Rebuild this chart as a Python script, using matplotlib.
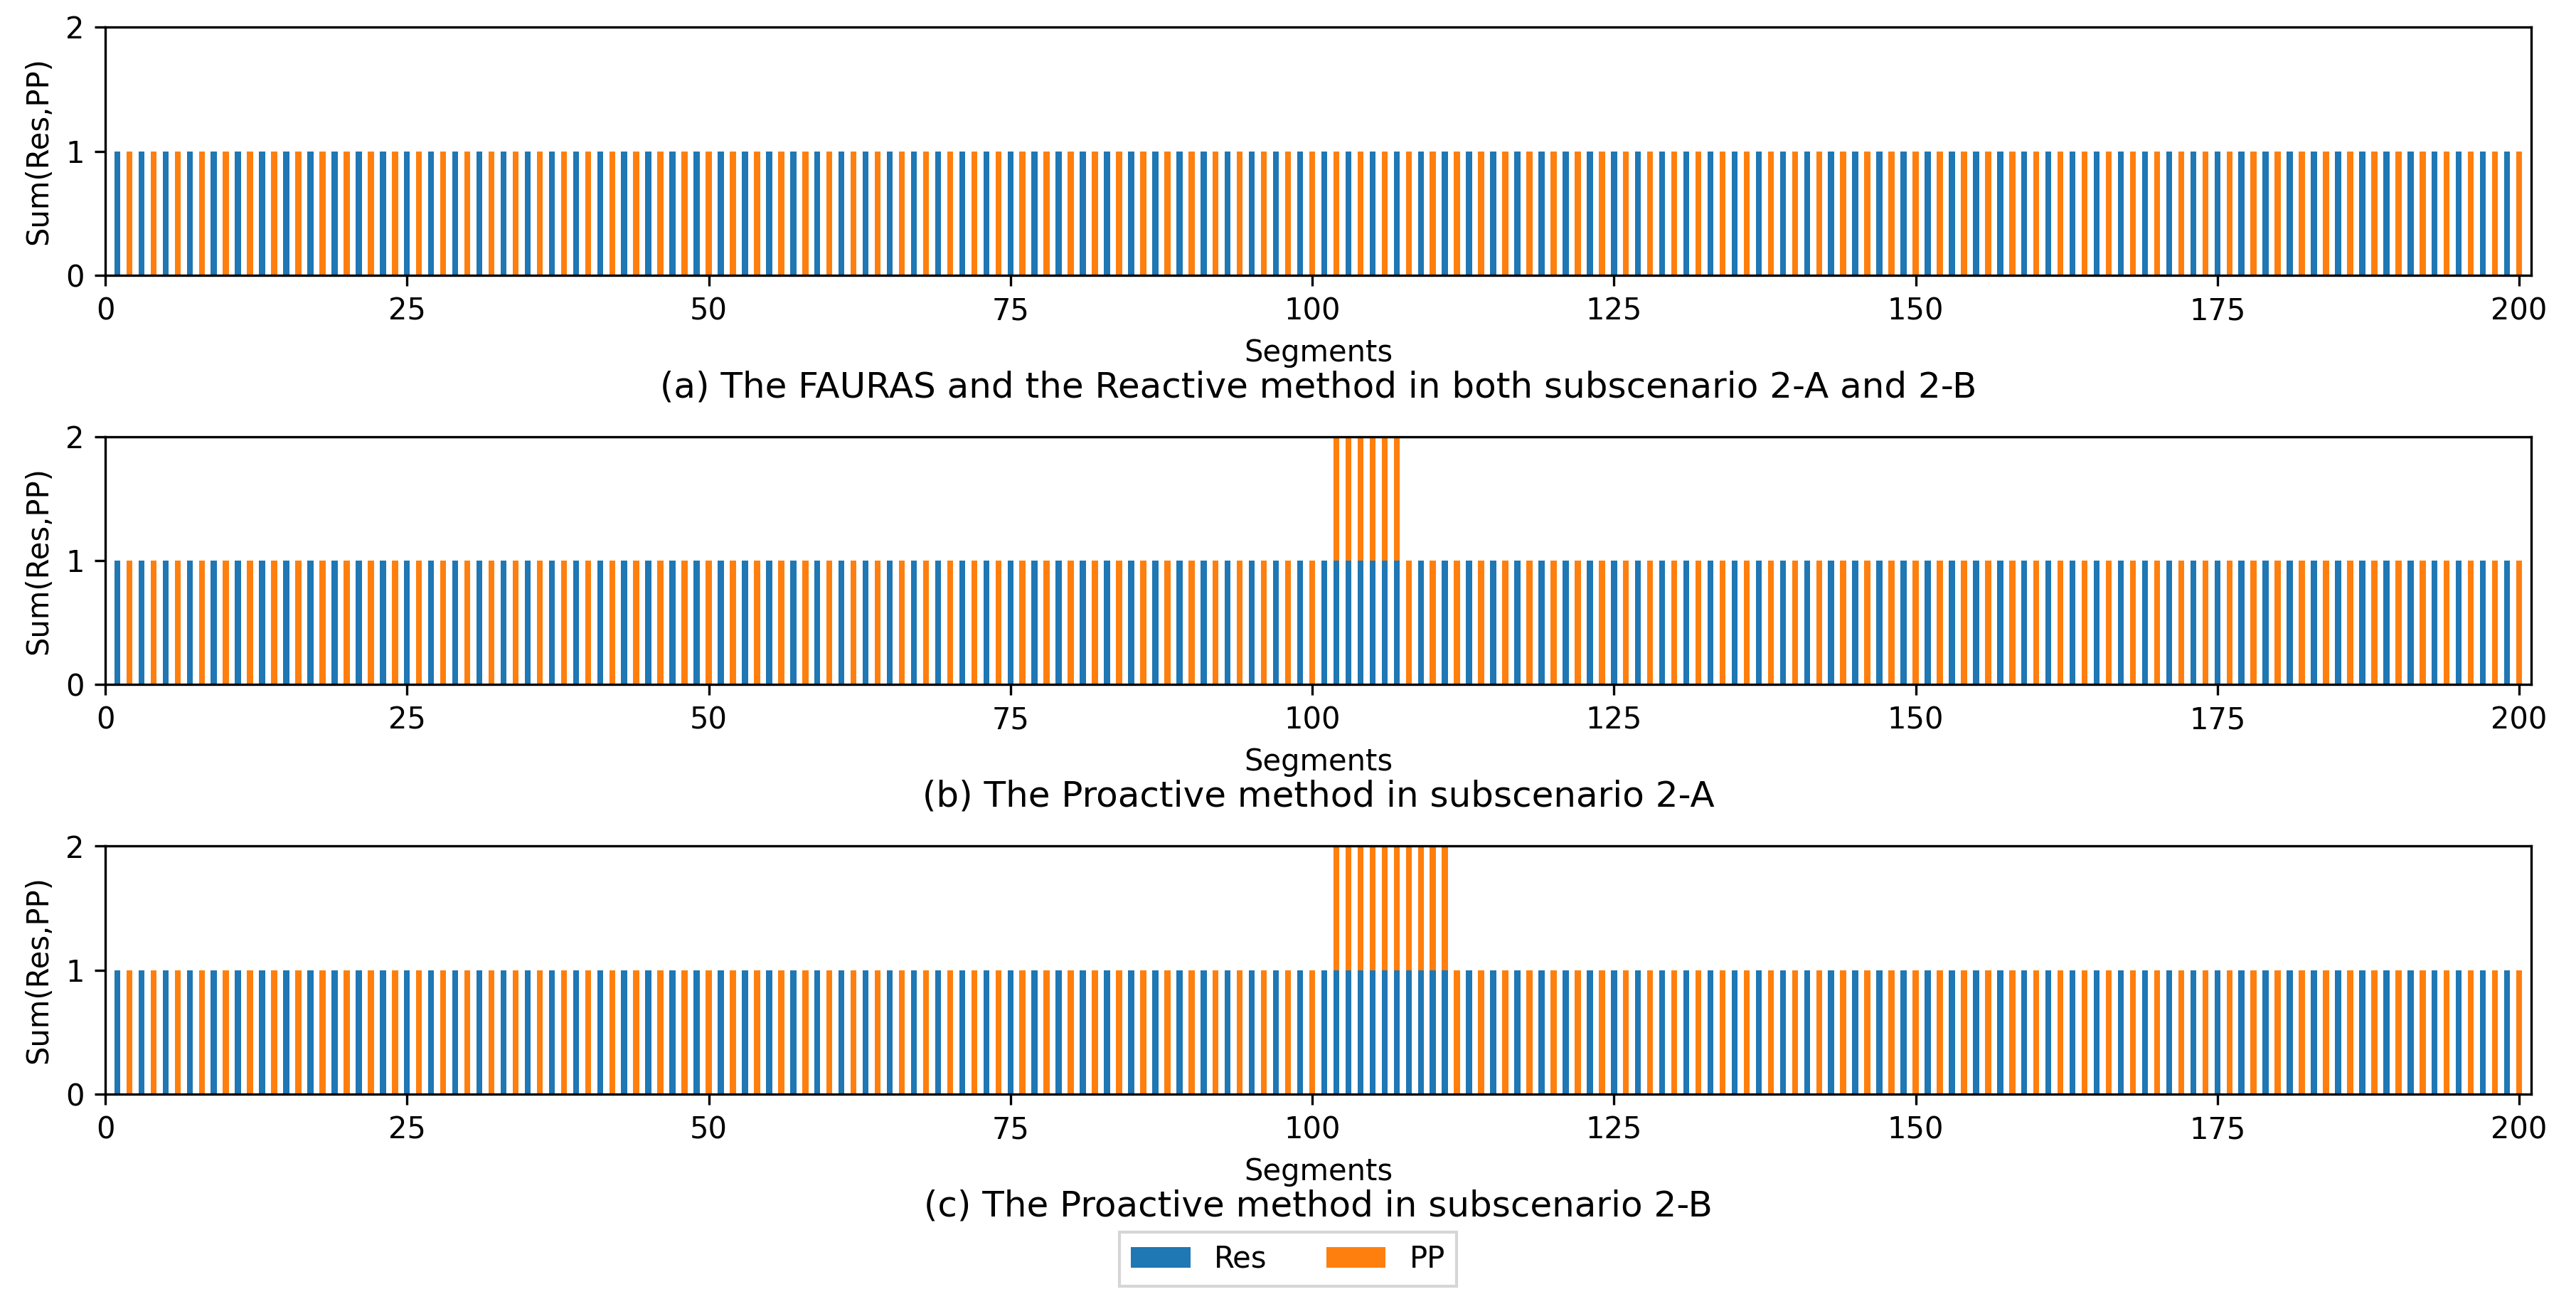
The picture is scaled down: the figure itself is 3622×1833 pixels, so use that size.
import numpy as np
import matplotlib
matplotlib.use("Agg")
import matplotlib.pyplot as plt

# segments 1..200
segments = list(range(1, 201))

# base pattern: Res on odd segments, PP on even segments
res_base = [
    1, 0, 1, 0, 1, 0, 1, 0, 1, 0, 1, 0, 1, 0, 1, 0, 1, 0, 1, 0,
    1, 0, 1, 0, 1, 0, 1, 0, 1, 0, 1, 0, 1, 0, 1, 0, 1, 0, 1, 0,
    1, 0, 1, 0, 1, 0, 1, 0, 1, 0, 1, 0, 1, 0, 1, 0, 1, 0, 1, 0,
    1, 0, 1, 0, 1, 0, 1, 0, 1, 0, 1, 0, 1, 0, 1, 0, 1, 0, 1, 0,
    1, 0, 1, 0, 1, 0, 1, 0, 1, 0, 1, 0, 1, 0, 1, 0, 1, 0, 1, 0,
    1, 0, 1, 0, 1, 0, 1, 0, 1, 0, 1, 0, 1, 0, 1, 0, 1, 0, 1, 0,
    1, 0, 1, 0, 1, 0, 1, 0, 1, 0, 1, 0, 1, 0, 1, 0, 1, 0, 1, 0,
    1, 0, 1, 0, 1, 0, 1, 0, 1, 0, 1, 0, 1, 0, 1, 0, 1, 0, 1, 0,
    1, 0, 1, 0, 1, 0, 1, 0, 1, 0, 1, 0, 1, 0, 1, 0, 1, 0, 1, 0,
    1, 0, 1, 0, 1, 0, 1, 0, 1, 0, 1, 0, 1, 0, 1, 0, 1, 0, 1, 0,
]
pp_base = [
    0, 1, 0, 1, 0, 1, 0, 1, 0, 1, 0, 1, 0, 1, 0, 1, 0, 1, 0, 1,
    0, 1, 0, 1, 0, 1, 0, 1, 0, 1, 0, 1, 0, 1, 0, 1, 0, 1, 0, 1,
    0, 1, 0, 1, 0, 1, 0, 1, 0, 1, 0, 1, 0, 1, 0, 1, 0, 1, 0, 1,
    0, 1, 0, 1, 0, 1, 0, 1, 0, 1, 0, 1, 0, 1, 0, 1, 0, 1, 0, 1,
    0, 1, 0, 1, 0, 1, 0, 1, 0, 1, 0, 1, 0, 1, 0, 1, 0, 1, 0, 1,
    0, 1, 0, 1, 0, 1, 0, 1, 0, 1, 0, 1, 0, 1, 0, 1, 0, 1, 0, 1,
    0, 1, 0, 1, 0, 1, 0, 1, 0, 1, 0, 1, 0, 1, 0, 1, 0, 1, 0, 1,
    0, 1, 0, 1, 0, 1, 0, 1, 0, 1, 0, 1, 0, 1, 0, 1, 0, 1, 0, 1,
    0, 1, 0, 1, 0, 1, 0, 1, 0, 1, 0, 1, 0, 1, 0, 1, 0, 1, 0, 1,
    0, 1, 0, 1, 0, 1, 0, 1, 0, 1, 0, 1, 0, 1, 0, 1, 0, 1, 0, 1,
]

# segments where both Res and PP are active (stacked to 2)
both_a = []
both_b = [102, 103, 104, 105, 106, 107]
both_c = [102, 103, 104, 105, 106, 107, 108, 109, 110, 111]

captions = [
    '(a) The FAURAS and the Reactive method in both subscenario 2-A and 2-B',
    '(b) The Proactive method in subscenario 2-A',
    '(c) The Proactive method in subscenario 2-B',
]


def make_series(both):
    res = list(res_base)
    pp = list(pp_base)
    for s in both:
        res[s - 1] = 1
        pp[s - 1] = 1
    return res, pp


W, H = 3622, 1833
dpi = 300
fig = plt.figure(figsize=(W / dpi, H / dpi), dpi=dpi)

left = 148 / W
right = 3559 / W
tops = [38, 614, 1189]
bottoms = [387, 962, 1538]

for i, both in enumerate([both_a, both_b, both_c]):
    res, pp = make_series(both)
    y0 = 1 - bottoms[i] / H
    h = (bottoms[i] - tops[i]) / H
    ax = fig.add_axes([left, y0, right - left, h])
    b1 = ax.bar(segments, res, 0.5, color='#1f77b4', label='Res')
    b2 = ax.bar(segments, pp, 0.5, bottom=res, color='#ff7f0e', label='PP')
    ax.set_xlim(0, 201)
    ax.set_ylim(0, 2)
    ax.set_xticks([0, 25, 50, 75, 100, 125, 150, 175, 200])
    ax.set_yticks([0, 1, 2])
    ax.tick_params(labelsize=10)
    ax.set_xlabel('Segments', fontsize=10)
    ax.set_ylabel('Sum(Res,PP)', fontsize=10)
    fig.text(0.5 * (left + right), 1 - (bottoms[i] + 171) / H, captions[i],
             ha='center', va='baseline', fontsize=12)

fig.legend([b1, b2], ['Res', 'PP'], loc='center', bbox_to_anchor=(0.5, 1 - 1770 / H),
           ncol=2, fontsize=10, fancybox=False, edgecolor='0.8')

fig.savefig('out.png', dpi=dpi)
